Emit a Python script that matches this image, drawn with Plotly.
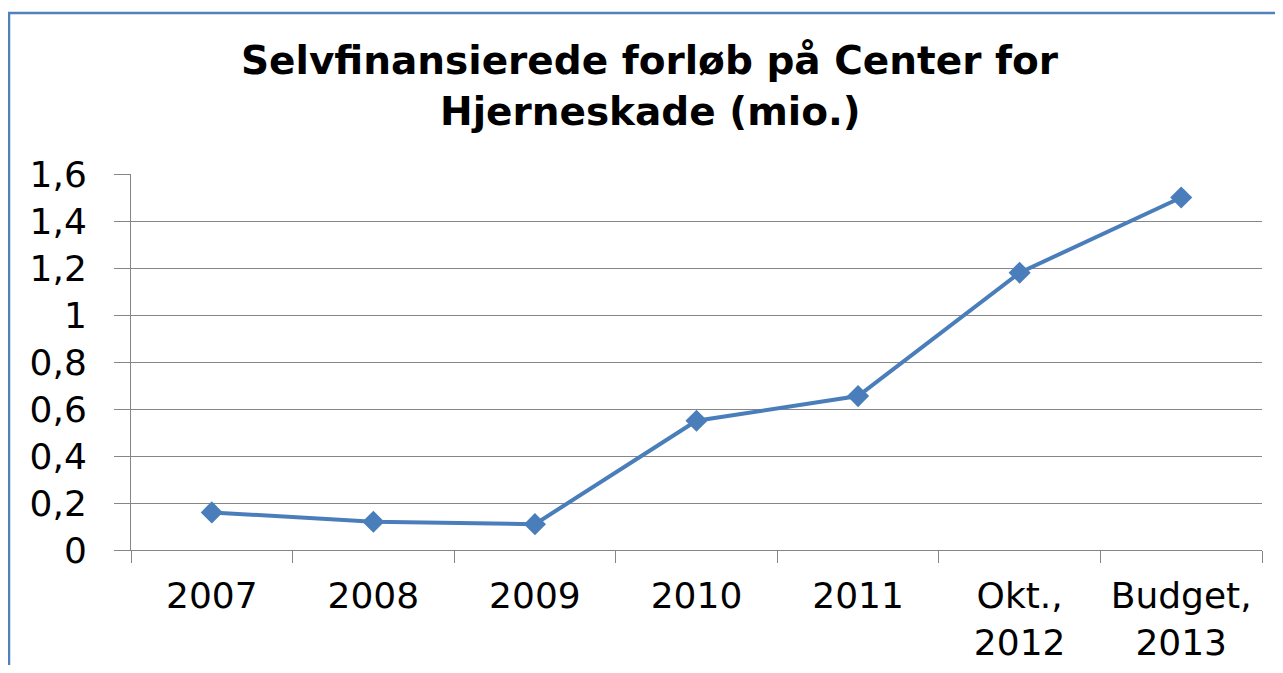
import plotly.graph_objects as go

categories = ["2007", "2008", "2009", "2010", "2011", "Okt.,<br>2012", "Budget,<br>2013"]
values = [0.16, 0.12, 0.11, 0.55, 0.655, 1.18, 1.50]
y_ticks = [0, 0.2, 0.4, 0.6, 0.8, 1.0, 1.2, 1.4, 1.6]
title_lines = ["Selvfinansierede forløb på Center for", "Hjerneskade (mio.)"]

# page body has an 8px margin; figure sized to fit inside the window
OFF = 8
W, H = 1283 - 2 * OFF, 673 - 2 * OFF
L, T = 131 - OFF, 174 - OFF
R = W - (1262 - OFF)
B = H - (550 - OFF)
pw = W - L - R
ph = H - T - B

def px_x(sx):
    return (sx - OFF - L) / pw

def px_y(sy):
    return (H - B - (sy - OFF)) / ph

FONT = "DejaVu Sans"

fig = go.Figure()
fig.add_trace(go.Scatter(
    x=categories, y=values, mode="lines+markers",
    line=dict(color="#4A7EBB", width=4),
    marker=dict(symbol="diamond", size=17, color="#4A7EBB"),
    showlegend=False,
))

annotations = []
for line, sy in zip(title_lines, [60, 112]):
    annotations.append(dict(
        text="<b>" + line + "</b>", xref="paper", yref="paper",
        x=px_x(650), y=px_y(sy), xanchor="center", yanchor="middle",
        showarrow=False,
        font=dict(size=39, family=FONT, color="black"),
    ))

fig.update_layout(
    width=W, height=H, autosize=False,
    margin=dict(l=L, r=R, t=T, b=B, pad=0),
    paper_bgcolor="white", plot_bgcolor="white",
    separators=", ",
    font=dict(family=FONT, color="black"),
    annotations=annotations,
    xaxis=dict(
        type="category", tickson="boundaries", ticks="outside", ticklen=12,
        range=[-0.5, len(categories) - 0.5],
        tickcolor="#868686", tickwidth=1, showgrid=False,
        showline=True, linecolor="#868686", linewidth=1,
        tickfont=dict(size=36, family=FONT, color="black"),
        ticklabelstandoff=14, automargin=False,
    ),
    yaxis=dict(
        range=[0, 1.6], tickvals=y_ticks, ticks="outside", ticklen=16,
        tickcolor="#868686", tickwidth=1, showgrid=True, gridcolor="#868686",
        gridwidth=1, showline=True, linecolor="#868686", linewidth=1,
        zeroline=False,
        tickfont=dict(size=36, family=FONT, color="black"),
        ticklabelstandoff=20, automargin=False,
    ),
    shapes=[dict(
        type="rect", xref="paper", yref="paper",
        x0=px_x(9), x1=px_x(1320), y0=px_y(720), y1=px_y(13),
        line=dict(color="#4F81BD", width=2.5), fillcolor="rgba(0,0,0,0)",
        layer="above",
    )],
)

fig.write_html("out.html")
